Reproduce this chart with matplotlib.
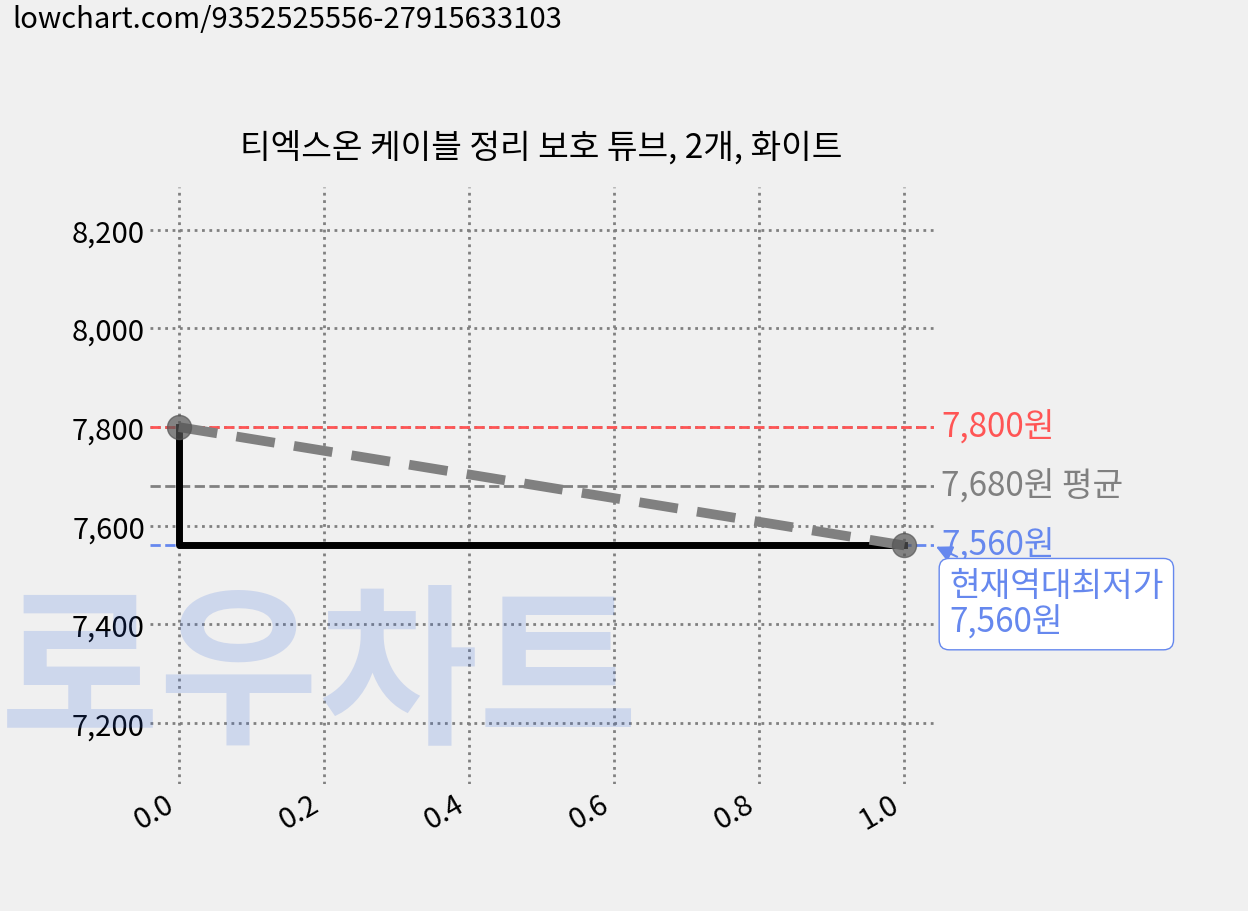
import matplotlib
matplotlib.use("Agg")
import matplotlib.pyplot as plt

plt.rcParams['font.family'] = ['Noto Sans CJK KR', 'DejaVu Sans']
plt.rcParams['font.weight'] = 'light'

x = [0.0, 1.0]
prices = [7800, 7560]
low_run = [7800, 7560]
max_price = 7800
avg_price = 7680
min_price = 7560
title = "티엑스온 케이블 정리 보호 튜브, 2개, 화이트"
url = "lowchart.com/9352525556-27915633103"

fig = plt.figure(figsize=(12.48, 9.12), dpi=100, facecolor="#f0f0f0")
ax = fig.add_axes([0.120, 0.139, 0.628, 0.655], facecolor="#f0f0f0")

ax.plot(x, low_run, color="black", lw=5, drawstyle="steps-pre", zorder=3)
ax.plot(x, prices, color="grey", lw=7, ls=(0, (4, 2)), zorder=4)
ax.scatter(x, prices, s=300, color="#555555", alpha=0.7, zorder=5)

ax.axhline(max_price, color="#ff5555", ls="--", lw=2, zorder=2)
ax.axhline(avg_price, color="grey", ls="--", lw=2, zorder=2)
ax.axhline(min_price, color="#6688ee", ls="--", lw=2, zorder=2)

tr = ax.get_yaxis_transform()
ax.text(1.01, max_price, f"{max_price:,}원", color="#ff5555", fontsize=24, va="center", transform=tr)
ax.text(1.01, avg_price, f"{avg_price:,}원 평균", color="grey", fontsize=24, va="center", transform=tr)
ax.text(1.01, min_price, f"{min_price:,}원", color="#6688ee", fontsize=24, va="center", transform=tr)
ax.annotate(f"현재역대최저가\n{min_price:,}원", xy=(1.0, min_price), xycoords=tr,
            xytext=(1.02, 7385), textcoords=tr,
            color="#6688ee", fontsize=24, linespacing=1.05,
            bbox=dict(boxstyle="round,pad=0.3", fc="white", ec="#6688ee"),
            arrowprops=dict(arrowstyle="-|>", color="#6688ee", lw=1.5))

ax.set_xlim(-0.04, 1.04)
ax.set_ylim(7076, 8287)
ax.set_xticks([0.0, 0.2, 0.4, 0.6, 0.8, 1.0])
yt = [7200, 7400, 7600, 7800, 8000, 8200]
ax.set_yticks(yt)
ax.set_yticklabels([f"{v:,}" for v in yt])
ax.tick_params(labelsize=21, length=0)
for lab in ax.get_xticklabels():
    lab.set_rotation(30)
    lab.set_ha("right")
ax.grid(True, color="grey", ls=":", lw=2)
for s in ax.spines.values():
    s.set_visible(False)
ax.set_title(title, fontsize=24, pad=22)

fig.text(0.01, 0.995, url, fontsize=21, va="top", ha="left")
fig.text(0.0, 0.16, "로우차트", fontsize=125, fontweight="heavy", color="#3366dd",
         alpha=0.18, va="bottom", ha="left")

fig.savefig("out.png", dpi=100, facecolor=fig.get_facecolor())
